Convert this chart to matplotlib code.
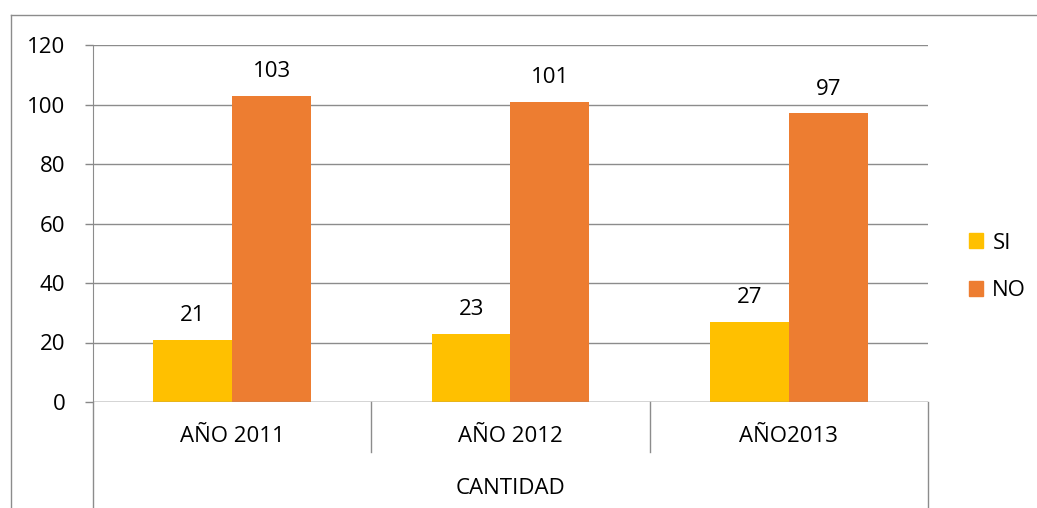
import matplotlib
matplotlib.use("Agg")
import matplotlib.pyplot as plt
from matplotlib.lines import Line2D
from matplotlib.patches import Patch

categories = ["AÑO 2011", "AÑO 2012", "AÑO2013"]
series_names = ["SI", "NO"]
si_values = [21, 23, 27]
no_values = [103, 101, 97]
y_ticks = [0, 20, 40, 60, 80, 100, 120]
group_title = "CANTIDAD"

colors = {"SI": "#FFC000", "NO": "#ED7D31"}
W, H = 1037, 508
DPI = 100
FS = 16
plt.rcParams['font.family'] = ['Open Sans', 'DejaVu Sans']

fig = plt.figure(figsize=(W / DPI, H / DPI), dpi=DPI)
ax = fig.add_axes([93 / W, (H - 402) / H, (928 - 93) / W, 357 / H])

bw = 0.283
xs = [i + 0.5 for i in range(len(categories))]
for vals, name, off in [(si_values, "SI", -bw / 2), (no_values, "NO", bw / 2)]:
    bars = ax.bar([x + off for x in xs], vals, width=bw, color=colors[name], zorder=3, label=name)
    for b, v in zip(bars, vals):
        ax.annotate(str(v), (b.get_x() + b.get_width() / 2, v), xytext=(0, 10),
                    textcoords="offset points", ha="center", va="bottom", fontsize=FS)

ax.set_xlim(0, len(categories))
ax.set_ylim(0, 120)
ax.set_yticks(y_ticks)
ax.set_yticklabels([str(t) for t in y_ticks], fontsize=FS)
ax.tick_params(axis='y', length=6, color='#888888', pad=14, width=1)
ax.set_xticks([])
ax.grid(axis='y', color='#8c8c8c', linewidth=1, zorder=0)
for s in ["top", "right", "bottom"]:
    ax.spines[s].set_visible(False)
ax.spines["left"].set_color('#8c8c8c')
ax.axhline(0, color='#8c8c8c', linewidth=1, zorder=4)

# category axis separators and labels
trans = ax.get_xaxis_transform()
def ypix(p):
    return (402 - p) / 357.0
for i in range(len(categories) + 1):
    bottom = 508 if i in (0, len(categories)) else 452
    ax.add_line(Line2D([i, i], [0, ypix(bottom)], transform=trans, color='#8c8c8c',
                       linewidth=1, clip_on=False))
for x, c in zip(xs, categories):
    ax.text(x, ypix(436), c, transform=trans, ha='center', va='center', fontsize=FS)
ax.text(len(categories) / 2, ypix(488), group_title, transform=trans, ha='center',
        va='center', fontsize=FS)

# legend
handles = [Patch(color=colors[n], label=n) for n in series_names]
fig.legend(handles=handles, loc='center left', bbox_to_anchor=(949 / W, 1 - 267 / H),
           frameon=False, fontsize=FS, handlelength=0.65, handleheight=0.65,
           handletextpad=0.4, labelspacing=1.2)

# outer frame
fig.add_artist(Line2D([11 / W, 11 / W], [0, 1 - 15 / H], color='#8c8c8c', linewidth=1))
fig.add_artist(Line2D([11 / W, 1], [1 - 15 / H, 1 - 15 / H], color='#8c8c8c', linewidth=1))

fig.savefig("out.png", dpi=DPI)
